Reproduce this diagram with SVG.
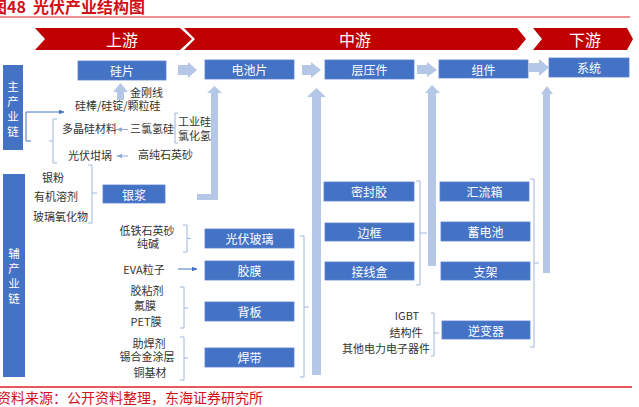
<svg xmlns="http://www.w3.org/2000/svg" width="639" height="407" viewBox="0 0 639 407">
<defs>
<style>
.t{font-family:"Noto Sans CJK SC","Liberation Sans",sans-serif;font-size:11px;fill:#333333}
.bt{font-family:"Noto Sans CJK SC","Liberation Sans",sans-serif;font-size:12px;fill:#ffffff;text-anchor:middle;dominant-baseline:central}
.vt{font-family:"Noto Sans CJK SC","Liberation Sans",sans-serif;font-size:11.5px;fill:#ffffff;text-anchor:middle;dominant-baseline:central}
.box{fill:#4472c4;stroke:#5a82cc;stroke-width:0.8}
.blk{fill:#b4c7e7}
.br{fill:none;stroke:#9fb6de;stroke-width:1}
.ln{fill:none;stroke:#4472c4;stroke-width:1}
.sa{fill:none;stroke:#8faadc;stroke-width:1}
.ban{fill:#c00000}
.bant{font-family:"Noto Sans CJK SC","Liberation Sans",sans-serif;font-size:16px;fill:#ffffff;text-anchor:middle;dominant-baseline:central}
.red{font-family:"Noto Sans CJK SC","Liberation Sans",sans-serif;fill:#d0101a}
</style>
<marker id="ah" viewBox="0 0 10 10" refX="9" refY="5" markerWidth="6" markerHeight="6" orient="auto"><path d="M0,1 L10,5 L0,9 Z" fill="#4472c4"/></marker>
<marker id="ahl" viewBox="0 0 10 10" refX="9" refY="5" markerWidth="6" markerHeight="6" orient="auto"><path d="M0,1 L10,5 L0,9 Z" fill="#8faadc"/></marker>
</defs>
<rect width="639" height="407" fill="#ffffff"/>

<g id="title">
<text class="red" x="-9" y="13" font-size="16" font-weight="bold">图48<tspan x="33">光伏产业结构图</tspan></text>
<line x1="0" y1="17" x2="630" y2="17" stroke="#e0202a" stroke-width="1.2"/>
</g>

<g id="banner">
<polygon class="ban" points="35,28 180,28 192,39 180,50 35,50 45,39"/>
<polygon class="ban" points="184,28 517,28 526,39 517,50 184,50 195,39"/>
<polygon class="ban" points="533,28 627,28 633,39 627,50 533,50 542,39"/>
<text class="bant" x="122" y="39">上游</text>
<text class="bant" x="355" y="39">中游</text>
<text class="bant" x="585" y="39">下游</text>
</g>

<g id="side-main">
<rect x="3" y="65" width="20" height="85" fill="#4472c4"/>
<text class="vt" x="13"><tspan x="13" y="86">主</tspan><tspan x="13" y="101">产</tspan><tspan x="13" y="116">业</tspan><tspan x="13" y="131">链</tspan></text>
</g>
<g id="side-aux">
<rect x="3" y="174" width="22" height="203" fill="#4472c4"/>
<text class="vt" x="14"><tspan x="14" y="253">辅</tspan><tspan x="14" y="268">产</tspan><tspan x="14" y="283">业</tspan><tspan x="14" y="298">链</tspan></text>
</g>

<g id="n-guipian"><rect class="box" x="78" y="61" width="88" height="19"/><text class="bt" x="122" y="70.5">硅片</text></g>
<g id="n-dianchipian"><rect class="box" x="205" y="60" width="89" height="19"/><text class="bt" x="249.5" y="69.5">电池片</text></g>
<g id="n-cengyajian"><rect class="box" x="325" y="60" width="89" height="19"/><text class="bt" x="369.5" y="69.5">层压件</text></g>
<g id="n-zujian"><rect class="box" x="439" y="60" width="89" height="18"/><text class="bt" x="483.5" y="69">组件</text></g>
<g id="n-xitong"><rect class="box" x="549" y="58" width="80" height="19"/><text class="bt" x="589" y="67.5">系统</text></g>

<g id="n-yinjiang"><rect class="box" x="103" y="185" width="62" height="18"/><text class="bt" x="134" y="194">银浆</text></g>
<g id="n-boli"><rect class="box" x="205" y="229" width="89" height="19"/><text class="bt" x="249.5" y="238.5">光伏玻璃</text></g>
<g id="n-jiaomo"><rect class="box" x="205" y="261" width="89" height="19"/><text class="bt" x="249.5" y="270.5">胶膜</text></g>
<g id="n-beiban"><rect class="box" x="205" y="302" width="89" height="19"/><text class="bt" x="249.5" y="311.5">背板</text></g>
<g id="n-handai"><rect class="box" x="205" y="348" width="89" height="19"/><text class="bt" x="249.5" y="357.5">焊带</text></g>

<g id="n-mifengjiao"><rect class="box" x="324" y="182" width="90" height="19"/><text class="bt" x="369" y="191.5">密封胶</text></g>
<g id="n-biankuang"><rect class="box" x="325" y="223" width="89" height="18"/><text class="bt" x="369.5" y="232">边框</text></g>
<g id="n-jiexianhe"><rect class="box" x="325" y="262" width="89" height="18"/><text class="bt" x="369.5" y="271">接线盒</text></g>

<g id="n-huiliuxiang"><rect class="box" x="440" y="182" width="89" height="19"/><text class="bt" x="484.5" y="191.5">汇流箱</text></g>
<g id="n-xudianchi"><rect class="box" x="441" y="222" width="89" height="19"/><text class="bt" x="485.5" y="231.5">蓄电池</text></g>
<g id="n-zhijia"><rect class="box" x="441" y="262" width="89" height="18"/><text class="bt" x="485.5" y="271">支架</text></g>
<g id="n-nibianqi"><rect class="box" x="442" y="321" width="88" height="18"/><text class="bt" x="486" y="330">逆变器</text></g>

<g id="labels">
<text class="t" x="130" y="97">金刚线</text>
<text class="t" x="75" y="110">硅棒/硅锭/颗粒硅</text>
<text class="t" x="62" y="133">多晶硅材料</text>
<text class="t" x="130" y="133">三氯氢硅</text>
<text class="t" x="178" y="126">工业硅</text>
<text class="t" x="178" y="140">氯化氢</text>
<text class="t" x="68" y="160">光伏坩埚</text>
<text class="t" x="138" y="159">高纯石英砂</text>
<text class="t" x="42" y="182">银粉</text>
<text class="t" x="34" y="201">有机溶剂</text>
<text class="t" x="33" y="221">玻璃氧化物</text>
<text class="t" x="147" y="235" text-anchor="middle">低铁石英砂</text>
<text class="t" x="148" y="248" text-anchor="middle">纯碱</text>
<text class="t" x="144" y="274" text-anchor="middle">EVA粒子</text>
<text class="t" x="147" y="295" text-anchor="middle">胶粘剂</text>
<text class="t" x="145" y="310" text-anchor="middle">氟膜</text>
<text class="t" x="146" y="326" text-anchor="middle">PET膜</text>
<text class="t" x="149" y="348" text-anchor="middle">助焊剂</text>
<text class="t" x="147" y="361" text-anchor="middle">锡合金涂层</text>
<text class="t" x="150" y="377" text-anchor="middle">铜基材</text>
<text class="t" x="407" y="320" text-anchor="middle">IGBT</text>
<text class="t" x="406" y="337" text-anchor="middle">结构件</text>
<text class="t" x="386" y="353" text-anchor="middle">其他电力电子器件</text>
</g>

<g id="connectors">
<polygon class="blk" points="178,65 188,65 188,62 197,70 188,78 188,75 178,75"/>
<polygon class="blk" points="302,65 311,65 311,62 321,70 311,78 311,75 302,75"/>
<polygon class="blk" points="417,65 427,65 427,62 437,70 427,77 427,74 417,74"/>
<polygon class="blk" points="528,63 539,63 539,59 549,67.5 539,76 539,72 528,72"/>
<polygon class="blk" points="117,100 117,92 113,92 120.5,83 128,92 124,92 124,100"/>
<polygon class="blk" points="197,194 211,194 211,93 207,93 214.5,86 222,93 218,93 218,200 197,200"/>
<polygon class="blk" points="312,375 312,97 307,97 316.5,88 326,97 321,97 321,375"/>
<polygon class="blk" points="428,266 428,93 425,93 432,85 440,93 436,93 436,266"/>
<polygon class="blk" points="543,273 543,94 541,94 547,86 553,94 550,94 550,273"/>

<path class="ln" d="M31,141 H26 V112 H64" marker-end="url(#ah)"/>
<path class="sa" d="M128,129.5 H117" marker-end="url(#ahl)"/>
<path class="sa" d="M128,156 H117" marker-end="url(#ahl)"/>
<path class="ln" d="M178,269 H197" marker-end="url(#ah)"/>

<path class="br" d="M57,119 H53 V163 H57 M53,141 H49"/>
<path class="br" d="M178,113 H175 V143 H178 M175,128 H171"/>
<path class="br" d="M88,165 H92 V223 H88 M92,193 H97"/>
<path class="br" d="M183,225 H187 V252 H183 M187,238.5 H191"/>
<path class="br" d="M180,287 H184 V328 H180 M184,308 H188"/>
<path class="br" d="M180,337 H184 V380 H180 M184,358 H188"/>
<path class="br" d="M300,236 H304 V377 H300 M304,307 H309"/>
<path class="br" d="M416,181 H420 V285 H416 M420,233 H427"/>
<path class="br" d="M530,179 H534 V347 H530 M534,263 H539"/>
<path class="br" d="M431,313 H434 V356 H431 M434,333 H439"/>
</g>

<g id="footer">
<line x1="0" y1="387" x2="632" y2="387" stroke="#e0202a" stroke-width="1.5"/>
<text class="red" x="-3" y="403" font-size="14">资料来源：公开资料整理，东海证券研究所</text>
</g>
</svg>
